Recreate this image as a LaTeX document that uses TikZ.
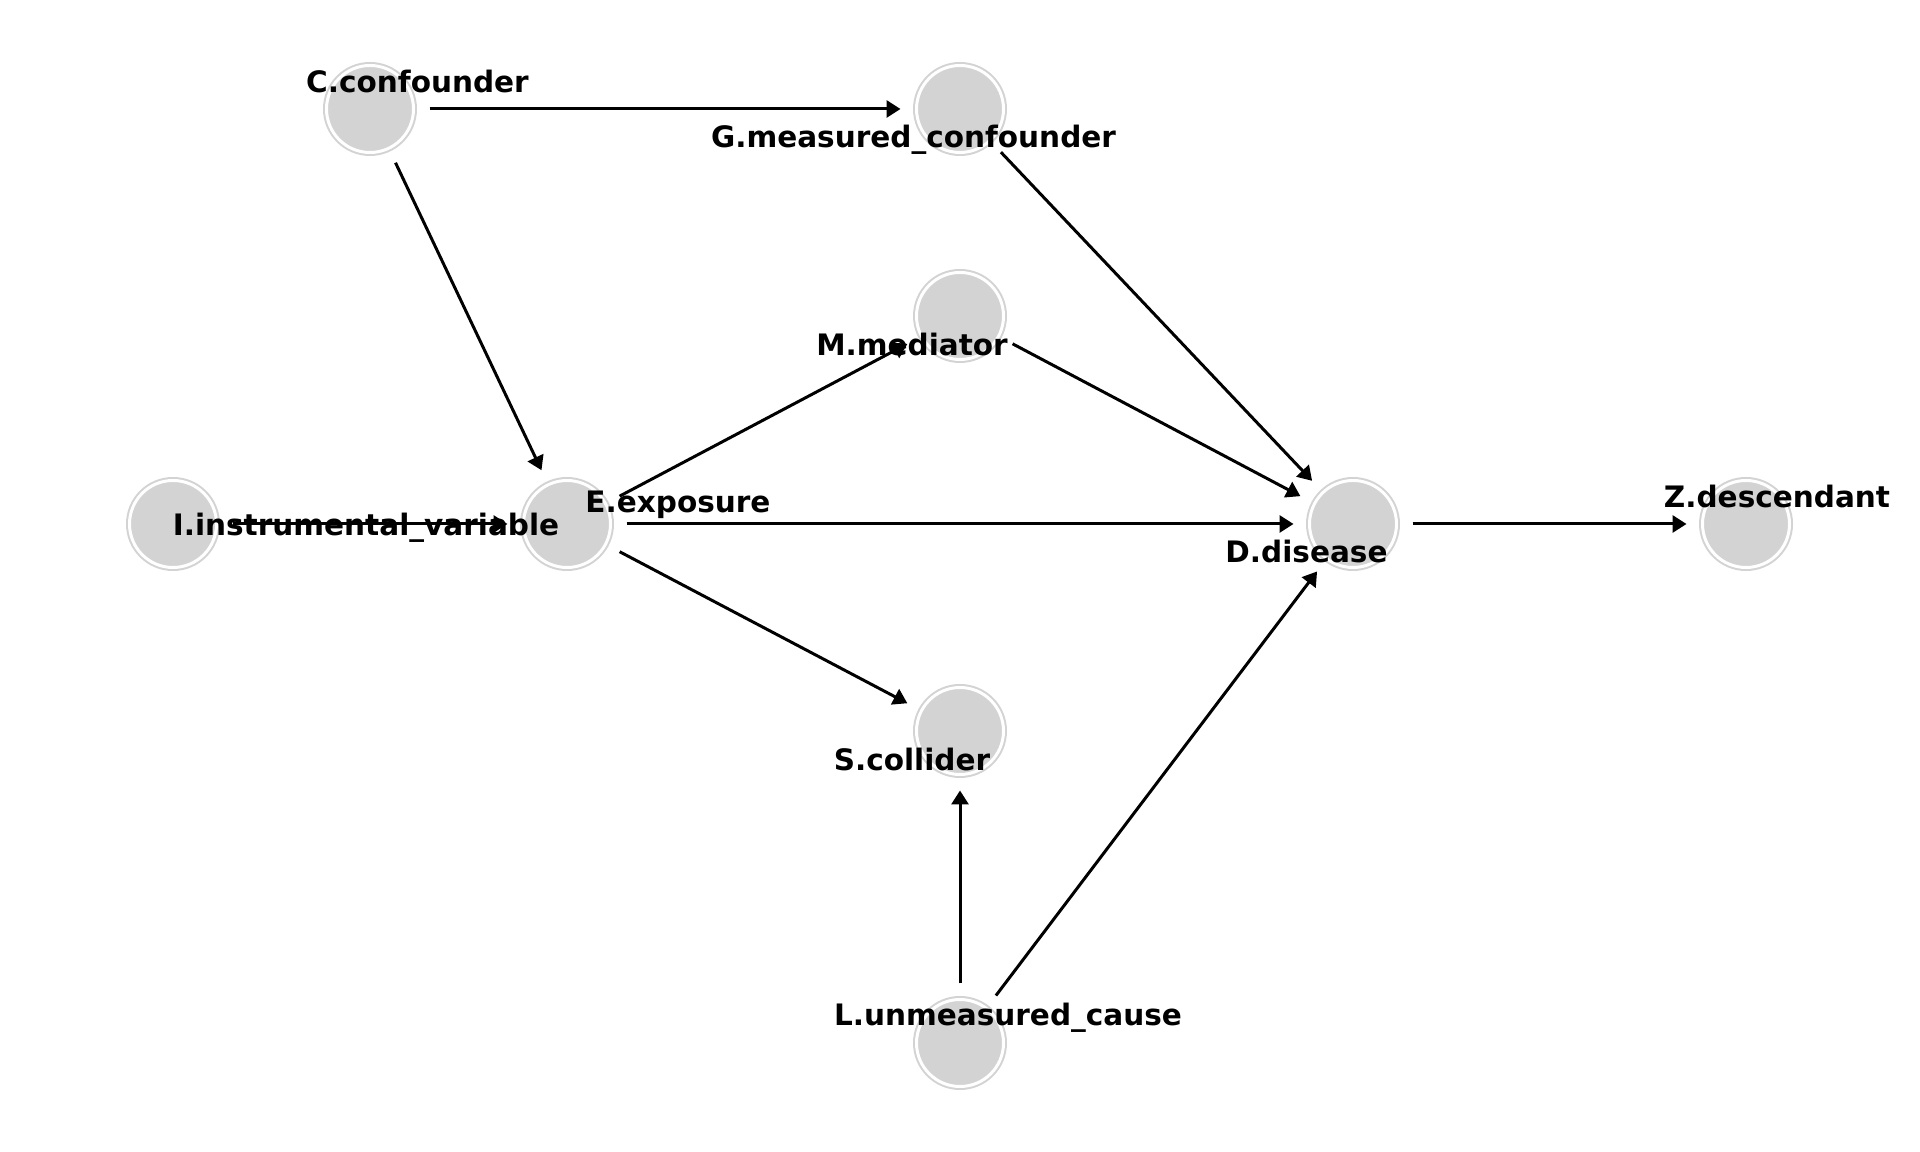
\documentclass[tikz,border=0pt]{standalone}
\usepackage{fontspec}
\setmainfont{DejaVu Sans}
\usetikzlibrary{arrows.meta, positioning}
\definecolor{nodegray}{HTML}{D3D3D3}

\begin{document}
\begin{tikzpicture}[
    varnode/.style={circle, fill=nodegray, draw=nodegray, double=white, line width=0.57pt, double distance=0.85pt, minimum size=0.87cm, inner sep=0pt, outer sep=0pt},
    varlabel/.style={font=\fontsize{8.4pt}{10pt}\selectfont\bfseries, inner sep=0pt, text height=0.21cm, text depth=0pt},
    causal/.style={-{Triangle[length=0.14cm, width=0.17cm]}, line width=0.85pt, shorten <=0.16cm, shorten >=0.16cm}
]

    % Canvas
    \useasboundingbox (0cm,0cm) rectangle (19.2cm,11.52cm);

    % Variables
    \node[varnode] (C) at (3.70cm, 10.43cm) {};
    \node[varnode] (G) at (9.60cm, 10.43cm) {};
    \node[varnode] (M) at (9.60cm, 8.36cm) {};
    \node[varnode] (I) at (1.73cm, 6.28cm) {};
    \node[varnode] (E) at (5.67cm, 6.28cm) {};
    \node[varnode] (D) at (13.53cm, 6.28cm) {};
    \node[varnode] (Z) at (17.46cm, 6.28cm) {};
    \node[varnode] (S) at (9.60cm, 4.21cm) {};
    \node[varnode] (L) at (9.60cm, 1.09cm) {};

    % Arrows
    \draw[causal] (C) -- (G);
    \draw[causal] (C) -- (E);
    \draw[causal] (G) -- (D);
    \draw[causal] (M) -- (D);
    \draw[causal] (I) -- (E);
    \draw[causal] (E) -- (M);
    \draw[causal] (E) -- (D);
    \draw[causal] (E) -- (S);
    \draw[causal] (D) -- (Z);
    \draw[causal] (L) -- (S);
    \draw[causal] (L) -- (D);

    % Labels
    \node[varlabel] (lblC) at (4.175cm, 10.70cm) {C.confounder};
    \node[varlabel] (lblG) at (9.135cm, 10.15cm) {G.measured\_confounder};
    \node[varlabel] (lblM) at (9.12cm, 8.07cm) {M.mediator};
    \node[varlabel] (lblI) at (3.66cm, 6.27cm) {I.instrumental\_variable};
    \node[varlabel] (lblE) at (6.78cm, 6.50cm) {E.exposure};
    \node[varlabel] (lblD) at (13.065cm, 6.00cm) {D.disease};
    \node[varlabel] (lblZ) at (17.77cm, 6.55cm) {Z.descendant};
    \node[varlabel] (lblS) at (9.12cm, 3.92cm) {S.collider};
    \node[varlabel] (lblL) at (10.08cm, 1.37cm) {L.unmeasured\_cause};

\end{tikzpicture}
\end{document}
